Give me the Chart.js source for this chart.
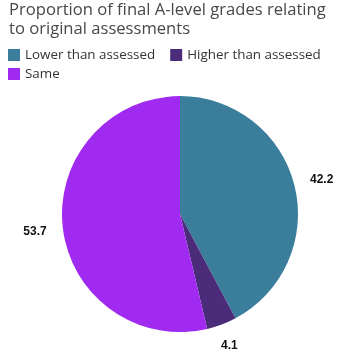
<!DOCTYPE html>
<html>
<head>
<meta charset="utf-8">
<script src="https://cdn.jsdelivr.net/npm/chart.js@4/dist/chart.umd.min.js"></script>
<style>
  html, body { margin: 0; padding: 0; background: #ffffff; }
  #wrap { width: 354px; height: 352px; position: relative; }
</style>
</head>
<body>
<div id="wrap"><canvas id="c" width="354" height="352"></canvas></div>
<script>
const titleLines = ["Proportion of final A-level grades relating", "to original assessments"];
const categories = ["Lower than assessed", "Higher than assessed", "Same"];
const values = [42.2, 4.1, 53.7];
const colors = ["#3b7e9c", "#4a2c7a", "#a02af0"];

const customLegend = {
  id: 'customLegend',
  afterDraw(chart) {
    const ctx = chart.ctx;
    const ds = chart.data.datasets[0];
    ctx.save();
    ctx.font = '13.4px "Open Sans"';
    ctx.textBaseline = 'middle';
    ctx.textAlign = 'left';
    let x = 8, y = 55;
    const box = 12, gapText = 5, gapItem = 15, rowH = 19, maxX = 350;
    chart.data.labels.forEach((lab, i) => {
      const w = box + gapText + ctx.measureText(lab).width;
      if (x > 8 && x + w > maxX) { x = 8; y += rowH; }
      ctx.fillStyle = ds.backgroundColor[i];
      ctx.fillRect(x, y - box / 2, box, box);
      ctx.fillStyle = '#333333';
      ctx.fillText(lab, x + box + gapText, y + 0.5);
      x += w + gapItem;
    });
    ctx.restore();
  }
};

const outerLabels = {
  id: 'outerLabels',
  afterDatasetsDraw(chart) {
    const ctx = chart.ctx;
    const meta = chart.getDatasetMeta(0);
    const data = chart.data.datasets[0].data;
    ctx.save();
    ctx.font = 'bold 12px "Liberation Sans", Arial, sans-serif';
    ctx.fillStyle = '#111111';
    ctx.textAlign = 'center';
    ctx.textBaseline = 'middle';
    meta.data.forEach((arc, i) => {
      const p = arc.getProps(['x', 'y', 'startAngle', 'endAngle', 'outerRadius'], true);
      const mid = (p.startAngle + p.endAngle) / 2;
      const txt = String(data[i]);
      const hw = ctx.measureText(txt).width / 2;
      const hh = 3;
      const d = p.outerRadius + 16 + hw * Math.abs(Math.cos(mid)) + hh * Math.abs(Math.sin(mid));
      ctx.fillText(txt, p.x + d * Math.cos(mid), p.y + d * Math.sin(mid) + 1);
    });
    ctx.restore();
  }
};

new Chart(document.getElementById('c'), {
  type: 'pie',
  data: {
    labels: categories,
    datasets: [{
      data: values,
      backgroundColor: colors,
      borderWidth: 0,
      radius: 118
    }]
  },
  options: {
    responsive: false,
    animation: false,
    layout: { padding: { left: 9, right: 3, top: 0, bottom: 12 } },
    plugins: {
      legend: { display: false },
      tooltip: { enabled: false },
      title: {
        display: true,
        text: titleLines,
        align: 'start',
        color: '#484848',
        font: { family: '"Open Sans"', size: 16.6, weight: 'normal', lineHeight: 1.18 },
        padding: { top: 0, bottom: 49 }
      }
    }
  },
  plugins: [customLegend, outerLabels]
});
</script>
</body>
</html>
